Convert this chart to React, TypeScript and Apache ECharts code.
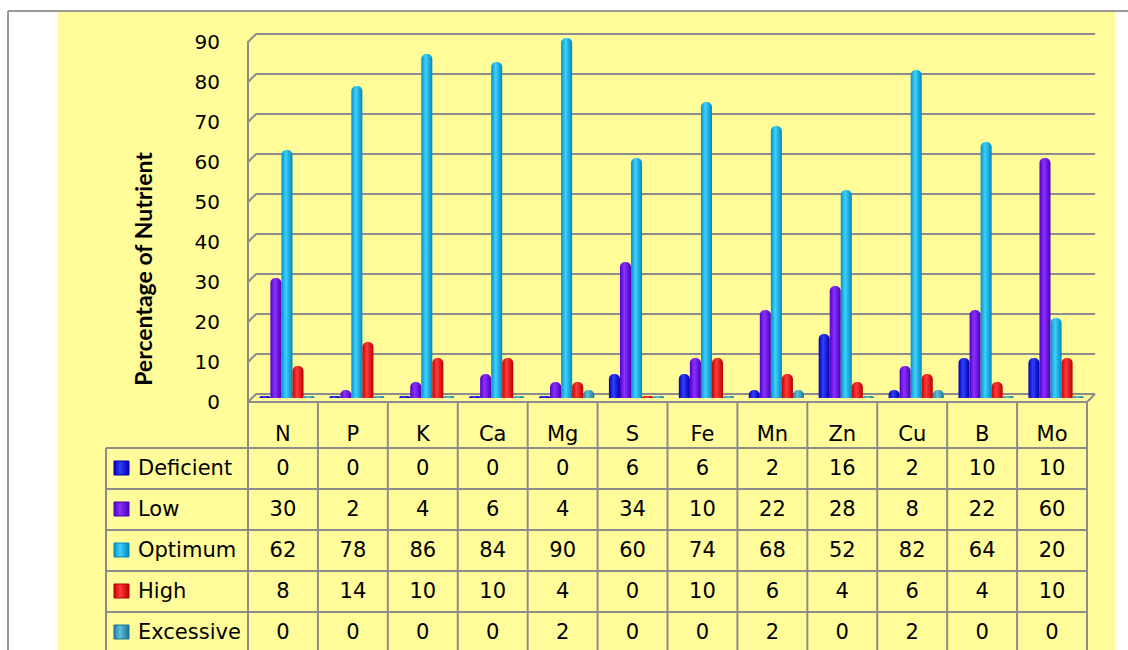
import React, { useEffect, useRef } from "react";
import * as echarts from "echarts";

const categories = ["N", "P", "K", "Ca", "Mg", "S", "Fe", "Mn", "Zn", "Cu", "B", "Mo"];
const deficient = [0, 0, 0, 0, 0, 6, 6, 2, 16, 2, 10, 10];
const low = [30, 2, 4, 6, 4, 34, 10, 22, 28, 8, 22, 60];
const optimum = [62, 78, 86, 84, 90, 60, 74, 68, 52, 82, 64, 20];
const high = [8, 14, 10, 10, 4, 0, 10, 6, 4, 6, 4, 10];
const excessive = [0, 0, 0, 0, 2, 0, 0, 2, 0, 2, 0, 0];
const seriesNames = ["Deficient", "Low", "Optimum", "High", "Excessive"];
const yTicks = [0, 10, 20, 30, 40, 50, 60, 70, 80, 90];

const GRAY = "#8c8c8c";
const YELLOW = "#FFFC99";
const FONT = "DejaVu Sans";

const palettes = [
  ["#0000b8", "#3040ff", "#0000a8"],
  ["#5200c8", "#8a30ff", "#4a00b8"],
  ["#0092c8", "#40d0ff", "#0088bb"],
  ["#c80000", "#ff3a3a", "#b80000"],
  ["#24809e", "#5cc0dc", "#1f7490"],
];

const grad = (p: string[]) =>
  new echarts.graphic.LinearGradient(0, 0, 1, 0, [
    { offset: 0, color: p[0] },
    { offset: 0.4, color: p[1] },
    { offset: 1, color: p[2] },
  ]);

export default function App() {
  const ref = useRef<HTMLDivElement>(null);
  useEffect(() => {
    document.body.style.margin = "0";
    const chart = echarts.init(ref.current!, null, { renderer: "svg" });
    const allSeries = [deficient, low, optimum, high, excessive];

    // table geometry
    const tLeft = 248;
    const tRight = 1087;
    const colW = (tRight - tLeft) / categories.length;
    const legendLeft = 106;
    const headerTop = 402;
    const rowLines = [448, 489, 530, 571, 612];
    const rowCenters = [468, 509, 550, 591, 632];
    const bottom = 650;

    const elements: any[] = [];
    elements.push({ type: "rect", z: -10, shape: { x: 58, y: 12, width: 1057, height: 640 }, style: { fill: YELLOW } });
    elements.push({ type: "line", shape: { x1: 8, y1: 11, x2: 1128, y2: 11 }, style: { stroke: "#9a9a9a", lineWidth: 2 } });
    elements.push({ type: "line", shape: { x1: 8, y1: 11, x2: 8, y2: 650 }, style: { stroke: "#9a9a9a", lineWidth: 2 } });

    for (let k = 0; k <= categories.length; k++) {
      const x = tLeft + k * colW;
      elements.push({ type: "line", shape: { x1: x, y1: headerTop, x2: x, y2: bottom }, style: { stroke: GRAY, lineWidth: 2 } });
    }
    elements.push({ type: "line", shape: { x1: legendLeft, y1: rowLines[0], x2: legendLeft, y2: bottom }, style: { stroke: GRAY, lineWidth: 2 } });
    rowLines.forEach((y) => {
      elements.push({ type: "line", shape: { x1: legendLeft, y1: y, x2: tRight, y2: y }, style: { stroke: GRAY, lineWidth: 2 } });
    });
    categories.forEach((c, i) => {
      elements.push({
        type: "text",
        x: tLeft + (i + 0.5) * colW,
        y: 434,
        style: { text: c, fontFamily: FONT, fontSize: 21, fill: "#000", align: "center", verticalAlign: "middle" },
      });
    });
    seriesNames.forEach((name, r) => {
      const cy = rowCenters[r];
      elements.push({
        type: "rect",
        shape: { x: 114, y: cy - 7, width: 15, height: 14 },
        style: { fill: grad(palettes[r]), stroke: palettes[r][2], lineWidth: 1 },
      });
      elements.push({
        type: "text",
        x: 138,
        y: cy,
        style: { text: name, fontFamily: FONT, fontSize: 21, fill: "#000", align: "left", verticalAlign: "middle" },
      });
      allSeries[r].forEach((v, i) => {
        elements.push({
          type: "text",
          x: tLeft + (i + 0.5) * colW,
          y: cy,
          style: { text: String(v), fontFamily: FONT, fontSize: 21, fill: "#000", align: "center", verticalAlign: "middle" },
        });
      });
    });
    elements.push({
      type: "text",
      x: 143,
      y: 269,
      rotation: Math.PI / 2,
      style: {
        text: "Percentage of Nutrient",
        fontFamily: "Lato",
        fontWeight: "bold",
        fontSize: 23,
        fill: "#000",
        align: "center",
        verticalAlign: "middle",
      },
    });

    const hiddenX = (gridIndex: number) => ({
      type: "category",
      gridIndex,
      data: categories,
      show: false,
    });

    chart.setOption({
      animation: false,
      backgroundColor: "#ffffff",
      grid: [
        { left: 248, right: 1128 - 1087, top: 42, bottom: 650 - 402 },
        { left: 256, right: 1128 - 1095, top: 34, bottom: 650 - 394 },
        { left: 252, right: 1128 - 1091, top: 38, bottom: 650 - 398 },
      ],
      xAxis: [hiddenX(0), hiddenX(1), hiddenX(2)],
      yAxis: [
        {
          type: "value",
          gridIndex: 0,
          min: 0,
          max: 90,
          interval: 10,
          axisLine: { show: true, lineStyle: { color: GRAY, width: 2 } },
          axisTick: { show: false },
          splitLine: { show: false },
          axisLabel: { fontFamily: FONT, fontSize: 20, color: "#000", margin: 28 },
        },
        {
          type: "value",
          gridIndex: 1,
          min: 0,
          max: 90,
          interval: 10,
          axisLine: { show: false },
          axisTick: { show: false },
          axisLabel: { show: false },
          splitLine: { show: true, lineStyle: { color: GRAY, width: 2 } },
        },
        {
          type: "value",
          gridIndex: 2,
          min: 0,
          max: 90,
          interval: 10,
          show: false,
        },
      ],
      graphic: { elements },
      series: [
        {
          type: "custom",
          xAxisIndex: 0,
          yAxisIndex: 0,
          silent: true,
          data: yTicks.map((v) => [0, v]),
          renderItem: (params: any, api: any) => {
            const cs = params.coordSys;
            const y = api.coord([0, api.value(1)])[1];
            const children: any[] = [
              { type: "line", shape: { x1: cs.x, y1: y, x2: cs.x + 8, y2: y - 8 }, style: { stroke: GRAY, lineWidth: 2 } },
            ];
            if (api.value(1) === 0) {
              children.push({
                type: "line",
                shape: { x1: cs.x, y1: y, x2: cs.x + cs.width, y2: y },
                style: { stroke: GRAY, lineWidth: 2 },
              });
              children.push({
                type: "line",
                shape: { x1: cs.x + cs.width, y1: y, x2: cs.x + cs.width + 8, y2: y - 8 },
                style: { stroke: GRAY, lineWidth: 2 },
              });
            }
            return { type: "group", children };
          },
        },
        ...allSeries.map((d, r) => ({
          type: "bar",
          name: seriesNames[r],
          xAxisIndex: 2,
          yAxisIndex: 2,
          data: d,
          barGap: "0%",
          barCategoryGap: "21%",
          barMinHeight: 2,
          itemStyle: { color: grad(palettes[r]), borderRadius: [5, 5, 0, 0] },
        })),
      ],
    });
    return () => chart.dispose();
  }, []);
  return <div ref={ref} style={{ width: 1128, height: 650 }} />;
}
